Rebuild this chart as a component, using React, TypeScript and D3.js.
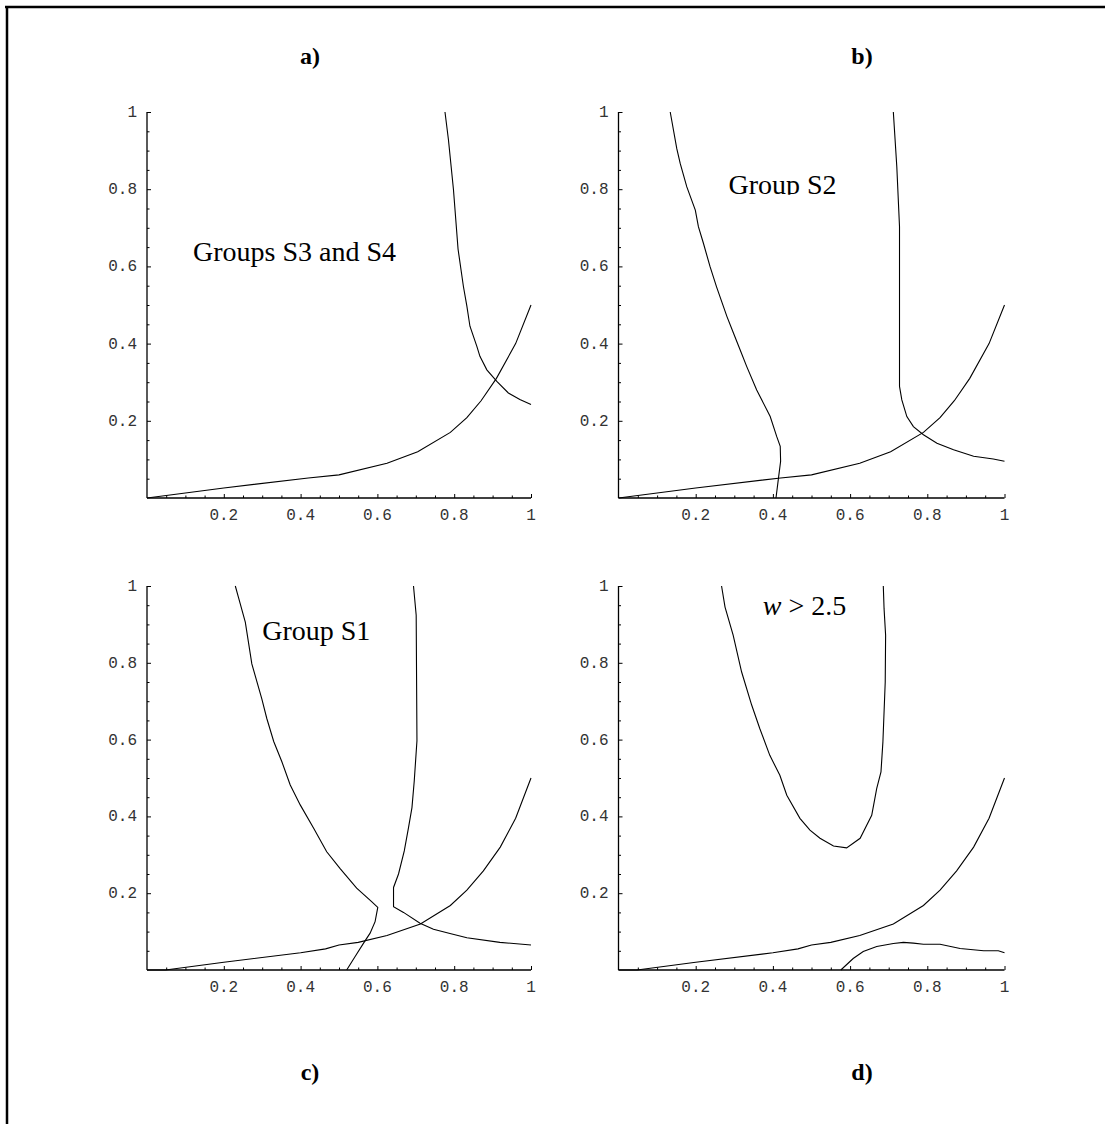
import * as d3 from 'd3'
import React, { useRef, useEffect } from 'react'

// tick marks (same on both axes of every panel)
const tickValues = [0.2, 0.4, 0.6, 0.8, 1]
const tickLabels = ['0.2', '0.4', '0.6', '0.8', '1']
const minorTicks = [0.05, 0.1, 0.15, 0.25, 0.3, 0.35, 0.45, 0.5, 0.55, 0.65, 0.7, 0.75, 0.85, 0.9, 0.95]

// curves, [x, y]
const baseAB = [[0, 0], [0.2, 0.026], [0.42, 0.052], [0.5, 0.06], [0.625, 0.09], [0.705, 0.12], [0.79, 0.17], [0.833, 0.208], [0.87, 0.252], [0.91, 0.31], [0.96, 0.4], [1, 0.5]]
const baseCD = [[0, 0], [0.048, 0], [0.2, 0.02], [0.4, 0.045], [0.465, 0.055], [0.5, 0.065], [0.55, 0.072], [0.625, 0.09], [0.712, 0.12], [0.79, 0.168], [0.833, 0.208], [0.876, 0.258], [0.92, 0.32], [0.96, 0.395], [1, 0.5]]
const aRight = [[0.776, 1], [0.785, 0.928], [0.798, 0.8], [0.81, 0.645], [0.824, 0.548], [0.833, 0.497], [0.841, 0.445], [0.859, 0.393], [0.867, 0.367], [0.885, 0.332], [0.911, 0.302], [0.941, 0.272], [0.971, 0.255], [1, 0.242]]
const bLeft = [[0.134, 1], [0.151, 0.905], [0.16, 0.866], [0.177, 0.806], [0.199, 0.746], [0.207, 0.703], [0.22, 0.66], [0.237, 0.6], [0.254, 0.547], [0.281, 0.47], [0.298, 0.427], [0.315, 0.384], [0.332, 0.341], [0.358, 0.28], [0.393, 0.211], [0.41, 0.159], [0.419, 0.134], [0.42, 0.095], [0.415, 0.056], [0.408, 0]]
const bRight = [[0.712, 1], [0.721, 0.858], [0.728, 0.703], [0.728, 0.289], [0.734, 0.254], [0.747, 0.211], [0.764, 0.185], [0.79, 0.164], [0.825, 0.142], [0.868, 0.125], [0.92, 0.108], [0.971, 0.101], [1, 0.095]]
const cLeft = [[0.23, 1], [0.238, 0.971], [0.256, 0.906], [0.273, 0.797], [0.299, 0.706], [0.312, 0.655], [0.33, 0.595], [0.351, 0.543], [0.373, 0.482], [0.399, 0.43], [0.434, 0.369], [0.468, 0.308], [0.503, 0.264], [0.546, 0.213], [0.585, 0.178], [0.601, 0.163], [0.594, 0.126], [0.581, 0.096], [0.564, 0.07], [0.542, 0.035], [0.52, 0]]
const cRight = [[0.694, 1], [0.701, 0.924], [0.703, 0.597], [0.696, 0.493], [0.69, 0.423], [0.681, 0.371], [0.67, 0.31], [0.655, 0.25], [0.642, 0.215], [0.642, 0.165], [0.668, 0.15], [0.711, 0.122], [0.746, 0.106], [0.789, 0.095], [0.833, 0.084], [0.919, 0.072], [1, 0.065]]
const dCup = [[0.267, 1], [0.276, 0.945], [0.297, 0.872], [0.319, 0.776], [0.345, 0.69], [0.366, 0.629], [0.392, 0.559], [0.418, 0.507], [0.436, 0.455], [0.47, 0.395], [0.496, 0.364], [0.522, 0.343], [0.557, 0.323], [0.591, 0.318], [0.626, 0.343], [0.656, 0.403], [0.669, 0.473], [0.68, 0.516], [0.685, 0.594], [0.691, 0.75], [0.692, 0.872], [0.688, 0.941], [0.686, 1]]
const dLow = [[0.576, 0], [0.608, 0.03], [0.634, 0.048], [0.669, 0.061], [0.712, 0.069], [0.738, 0.072], [0.764, 0.07], [0.79, 0.067], [0.833, 0.067], [0.885, 0.056], [0.946, 0.05], [0.984, 0.05], [1, 0.045]]

const panelLetters = ['a)', 'b)', 'c)', 'd)']
const panelNotes = ['Groups S3 and S4', 'Group S2', 'Group S1', 'w > 2.5']

export default function App() {
    const svgRef = useRef()

    useEffect(() => {
        const svg = d3.select(svgRef.current)
        svg.selectAll('*').remove()

        // frame: only top and left edges show
        svg.append('line').attr('x1', 5).attr('x2', 1105).attr('y1', 7).attr('y2', 7)
            .attr('stroke', '#000').attr('stroke-width', 2.5)
        svg.append('line').attr('x1', 7).attr('x2', 7).attr('y1', 6).attr('y2', 1124)
            .attr('stroke', '#000').attr('stroke-width', 2.5)

        const panels = [
            { left: 147, top: 112, w: 384, h: 386, curves: [baseAB, aRight], note: [0.12, 0.614], clip: false },
            { left: 618.5, top: 112, w: 386, h: 386, curves: [baseAB, bLeft, bRight], note: [0.285, 0.788], clip: true },
            { left: 147, top: 586, w: 384, h: 384, curves: [baseCD, cLeft, cRight], note: [0.3, 0.859], clip: false },
            { left: 618.5, top: 586, w: 386, h: 384, curves: [baseCD, dCup, dLow], note: [0.374, 0.924], clip: false },
        ]

        panels.forEach((p, i) => {
            const x = d3.scaleLinear().domain([0, 1]).range([p.left, p.left + p.w])
            const y = d3.scaleLinear().domain([0, 1]).range([p.top + p.h, p.top])
            const g = svg.append('g')

            // ticks point inwards like Mathematica
            const xAxis = d3.axisTop(x).tickValues(tickValues).tickSize(4).tickFormat(() => '')
            const xMinor = d3.axisTop(x).tickValues(minorTicks).tickSize(2.5).tickFormat(() => '')
            const yAxis = d3.axisRight(y).tickValues(tickValues).tickSize(4).tickFormat(() => '')
            const yMinor = d3.axisRight(y).tickValues(minorTicks).tickSize(2.5).tickFormat(() => '')
            g.append('g').attr('transform', `translate(0,${y(0)})`).call(xAxis)
            g.append('g').attr('transform', `translate(0,${y(0)})`).call(xMinor)
            g.append('g').attr('transform', `translate(${x(0)},0)`).call(yAxis)
            g.append('g').attr('transform', `translate(${x(0)},0)`).call(yMinor)
            g.selectAll('.tick line').attr('stroke', '#000').attr('stroke-width', 1)

            // plain axis lines instead of d3's capped domain path
            g.selectAll('.domain').remove()
            g.append('line').attr('x1', x(0)).attr('x2', x(1)).attr('y1', y(0)).attr('y2', y(0))
                .attr('stroke', '#000').attr('stroke-width', 1.3)
            g.append('line').attr('x1', x(0)).attr('x2', x(0)).attr('y1', y(0)).attr('y2', y(1))
                .attr('stroke', '#000').attr('stroke-width', 1.3)

            // tick labels
            g.selectAll('.xl').data(tickValues).join('text')
                .attr('x', d => x(d)).attr('y', y(0) + 22)
                .attr('text-anchor', 'middle')
                .style('font-family', '"Liberation Mono", "Courier New", monospace')
                .style('font-size', '16px').attr('fill', '#333')
                .text((d, k) => tickLabels[k])
            g.selectAll('.yl').data(tickValues).join('text')
                .attr('x', x(0) - 10).attr('y', d => y(d) + 5)
                .attr('text-anchor', 'end')
                .style('font-family', '"Liberation Mono", "Courier New", monospace')
                .style('font-size', '16px').attr('fill', '#333')
                .text((d, k) => tickLabels[k])

            // curves
            const line = d3.line().x(d => x(d[0])).y(d => y(d[1]))
            g.selectAll('.curve').data(p.curves).join('path')
                .attr('d', d => line(d))
                .attr('fill', 'none').attr('stroke', '#000').attr('stroke-width', 1.1)

            // note inside the plot
            const nx = x(p.note[0])
            const ny = y(p.note[1])
            const t = g.append('text').attr('x', nx).attr('y', ny)
                .style('font-family', '"Liberation Serif", "Times New Roman", serif')
                .style('font-size', '28px').attr('fill', '#000')
            if (i === 3) {
                t.append('tspan').style('font-style', 'italic').text('w')
                t.append('tspan').text(' > 2.5')
            } else {
                t.text(panelNotes[i])
            }
            if (p.clip) {
                // the source cuts this label off at its baseline
                svg.append('clipPath').attr('id', 'clipS2')
                    .append('rect').attr('x', nx - 5).attr('y', ny - 40).attr('width', 200).attr('height', 41)
                t.attr('clip-path', 'url(#clipS2)')
            }
        })

        // panel letters
        const letterPos = [[310, 64], [862, 64], [310, 1080], [862, 1080]]
        svg.selectAll('.letter').data(panelLetters).join('text')
            .attr('x', (d, i) => letterPos[i][0]).attr('y', (d, i) => letterPos[i][1])
            .attr('text-anchor', 'middle')
            .style('font-family', '"Liberation Serif", "Times New Roman", serif')
            .style('font-size', '24px').style('font-weight', 'bold')
            .text(d => d)
    }, [])

    return (
        <div style={{ position: 'absolute', left: 0, top: 0 }}>
            <svg ref={svgRef} width={1105} height={1124} style={{ display: 'block', background: '#fff' }}></svg>
        </div>
    )
}
